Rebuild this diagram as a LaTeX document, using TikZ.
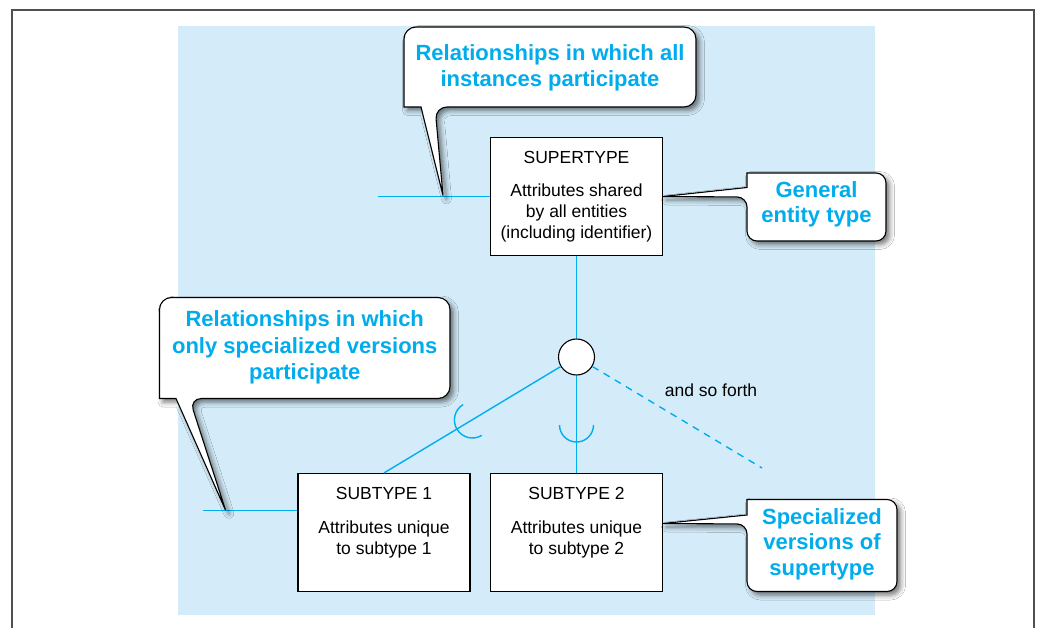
\documentclass[tikz,border=0pt]{standalone}
\usepackage{fontspec}
\setmainfont{Liberation Sans}
\usetikzlibrary{shadows.blur,calc}
\definecolor{bgblue}{RGB}{212,236,249}
\definecolor{lineblue}{RGB}{0,174,239}
\definecolor{txtblue}{RGB}{0,172,236}
\definecolor{framegray}{RGB}{80,80,80}
\tikzset{
  ent/.style={draw=black, line width=1.1pt, fill=white, minimum width=172pt, minimum height=118pt, inner sep=0pt},
  etxt/.style={anchor=base, font=\fontsize{17.5}{21}\selectfont, inner sep=0pt},
  ctxt/.style={anchor=base, font=\fontsize{22}{26}\selectfont\bfseries, text=txtblue, inner sep=0pt},
  rel/.style={draw=lineblue, line width=1.4pt},
  isanode/.style={circle, draw=black, line width=1.1pt, fill=white, minimum size=36pt, inner sep=0pt},
  callout/.style={draw=black, line width=1.1pt, fill=white, line join=miter,
    blur shadow={shadow xshift=3.5pt, shadow yshift=-3.5pt, shadow blur radius=5pt, shadow opacity=55}},
}
\begin{document}
\begin{tikzpicture}[x=1pt,y=-1pt]
\useasboundingbox (0,0) rectangle (1037,628);
\fill[white] (0,0) rectangle (1037,628);
\fill[bgblue] (178,26) rectangle (875,615);
\draw[framegray, line width=2pt] (12,640) -- (12,10) -- (1034,10) -- (1034,640);

% entity boxes
\node[ent] (sup) at (576.5,196.5) {};
\node[ent] (sub1) at (384,532.5) {};
\node[ent] (sub2) at (576.5,532.5) {};
\node[isanode] (isa) at (576.5,357) {};

% free ends
\coordinate (l1) at (378,196.5);
\coordinate (l3) at ($(sub1.west)+(-94,-21.8)$);
\coordinate (s1l) at ($(sub1.west)+(0,-21.8)$);
\coordinate (etc) at (762,468);

% relationship lines
\draw[rel] (sup.west) -- (l1);
\draw[rel] (s1l) -- (l3);
\draw[rel] (sup.south) -- (isa.north);
\draw[rel] (isa) -- (sub1.north);
\draw[rel] (isa.south) -- (sub2.north);
\draw[rel, dash pattern=on 7pt off 6pt] (isa) -- (etc);

% subset symbols
\coordinate (u1) at (472.4,420);
\coordinate (u2) at (576.5,425);
\draw[rel] ($(u2)+(17,0)$) arc[start angle=0, end angle=180, radius=17];
\draw[rel] ($(u1)+({18*cos(58.8)},{18*sin(58.8)})$) arc[start angle=58.8, end angle=238.8, radius=18];

% text in boxes
\node[etxt] (supa) at (576.5,163.5) {SUPERTYPE};
\node[etxt] (supb) at (576.5,196.5) {Attributes shared};
\node[etxt] (supc) at (576.5,217.5) {by all entities};
\node[etxt] (supd) at (576.5,238.5) {(including identifier)};
\node[etxt] (s1a) at (384,499.5) {SUBTYPE 1};
\node[etxt] (s1b) at (384,533) {Attributes unique};
\node[etxt] (s1c) at (384,554) {to subtype 1};
\node[etxt] (s2a) at (576.5,499.5) {SUBTYPE 2};
\node[etxt] (s2b) at (576.5,533) {Attributes unique};
\node[etxt] (s2c) at (576.5,554) {to subtype 2};
\node[etxt] (etctxt) at (711,396.5) {and so forth};

% callout 1
\coordinate (t1) at (443,195.5);
\path[callout] (t1) [sharp corners] -- (421,107) -- (404,107) [rounded corners=12pt] -- (404,27) -- (696,27) -- (696,107) -- (435,107) [sharp corners] -- cycle;
\node[ctxt] (c1a) at (550,61) {Relationships in which all};
\node[ctxt] (c1b) at (550,87) {instances participate};

% callout 2
\coordinate (t2) at (sup.east);
\path[callout] (t2) [sharp corners] -- (747,187.5) -- (747,173) [rounded corners=10pt] -- (886,173) -- (886,241) -- (747,241) -- (747,197) [sharp corners] -- cycle;
\node[ctxt] (c2a) at (816.5,198) {General};
\node[ctxt] (c2b) at (816.5,223) {entity type};

% callout 3
\coordinate (t3) at (225.5,510);
\path[callout] (t3) [sharp corners] -- (176,398.5) -- (159.5,398.5) [rounded corners=12pt] -- (159.5,297.5) -- (450,297.5) -- (450,398.5) -- (189.5,398.5) [sharp corners] -- cycle;
\node[ctxt] (c3a) at (304.75,327) {Relationships in which};
\node[ctxt] (c3b) at (304.75,353.5) {only specialized versions};
\node[ctxt] (c3c) at (304.75,380) {participate};

% callout 4
\coordinate (t4) at ($(sub2.east)+(0,-9)$);
\path[callout] (t4) [sharp corners] -- (747,515) -- (747,499.5) [rounded corners=10pt] -- (897,499.5) -- (897,591.5) -- (747,591.5) -- (747,524) [sharp corners] -- cycle;
\node[ctxt] (c4a) at (822,524) {Specialized};
\node[ctxt] (c4b) at (822,549.5) {versions of};
\node[ctxt] (c4c) at (822,575) {supertype};
\end{tikzpicture}
\end{document}
